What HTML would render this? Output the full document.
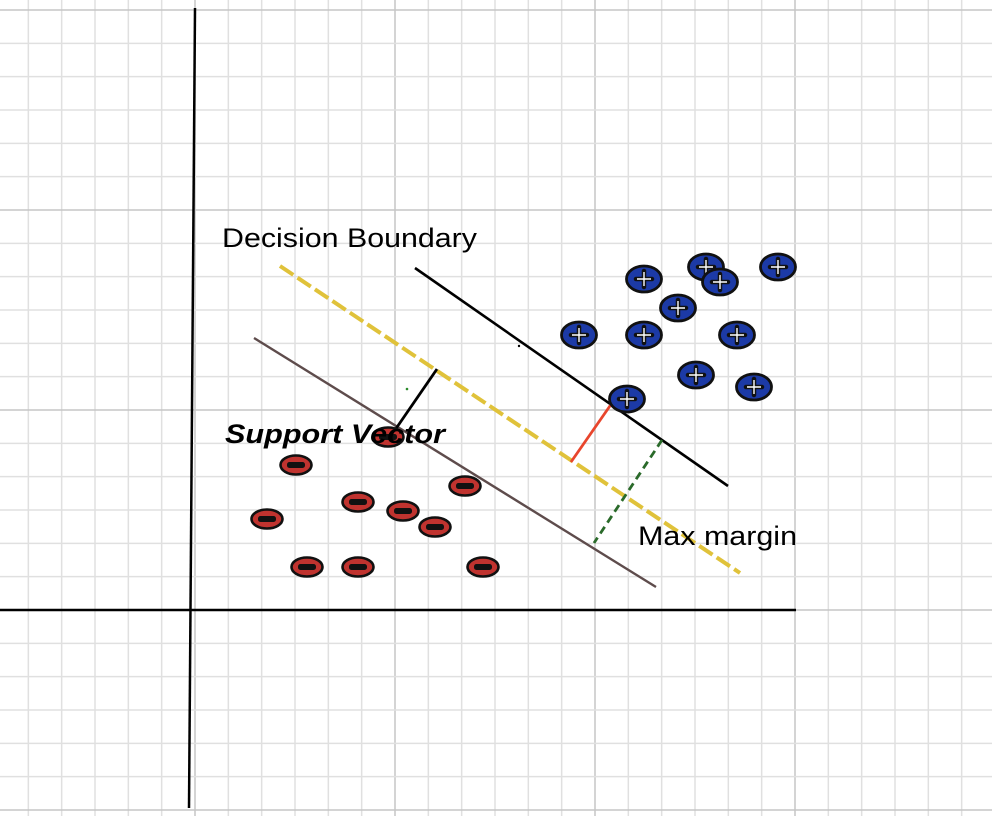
<!DOCTYPE html>
<html><head><meta charset="utf-8"><style>
html,body{margin:0;padding:0;background:#fff;}
svg{display:block;}
text{font-family:"Liberation Sans",sans-serif;}
</style></head><body>
<svg id="c" width="992" height="816" viewBox="0 0 992 816" xmlns="http://www.w3.org/2000/svg">
<g id="grid"></g>
<g id="lines"></g>
<g id="axes">
<line x1="195" y1="8" x2="189" y2="808" stroke="#000" stroke-width="2.5"/>
<line x1="0" y1="610" x2="796" y2="610" stroke="#000" stroke-width="2.5"/>
</g>
<g id="pts"></g>
<text x="222" y="247" font-size="27" textLength="255" lengthAdjust="spacingAndGlyphs" fill="#000">Decision Boundary</text>
<text x="225" y="443" font-size="27" textLength="220" lengthAdjust="spacingAndGlyphs" font-weight="bold" font-style="italic" fill="#000">Support Vector</text>
<text x="638" y="545" font-size="27" textLength="159" lengthAdjust="spacingAndGlyphs" fill="#000">Max margin</text>
</svg>
<script>
const positiveX = [13.47,15.33,15.75,17.49,14.49,11.52,13.47,16.26,15.03,16.77,12.96];
const positiveY = [9.93,10.29,9.84,10.29,9.06,8.25,8.25,8.25,7.05,6.69,6.33];
const negativeX = [3.03,2.16,4.89,6.24,7.20,8.10,3.36,4.89,8.64,5.79];
const negativeY = [4.35,2.73,3.24,2.97,2.49,3.72,1.29,1.29,1.29,5.19];
const lineNames = ["max-margin-hyperplane","decision-boundary","support-line","support-distance","margin-red","margin-green"];
const lineX1 = [2.55,6.60,1.77,7.26,12.51,14.01];
const lineY1 = [10.32,10.26,8.16,7.23,6.21,5.10];
const lineX2 = [16.35,15.99,13.83,6.00,11.28,11.97];
const lineY2 = [1.11,3.72,0.69,5.40,4.44,2.01];
const lineStyles = [["#e0c23a",4,"16 5"],["#000",2.6,""],["#5e4c4c",2.4,""],["#000",2.8,""],["#e8452c",2.8,""],["#2a6a2a",2.8,"8 5"]];

const U = 33.333;
const sx = v => 195 + v*U;
const sy = v => 610 - v*U;
const NS = "http://www.w3.org/2000/svg";
function mk(tag, attrs, parent){
  const e = document.createElementNS(NS, tag);
  for (const k in attrs) e.setAttribute(k, attrs[k]);
  parent.appendChild(e);
  return e;
}
const grid = document.getElementById('grid');
for (let k = 0; k <= 30; k++) {
  const x = -5 + k*U;
  const major = (k % 6 === 0);
  const l = mk('line', {x1:x, y1:0, x2:x, y2:816, stroke: major ? '#c6c6c6' : '#e0e0e0', 'stroke-width': 1.5}, grid);
  
  
}
for (let k = 0; k <= 24; k++) {
  const y = 10 + k*U;
  const major = (k % 6 === 0);
  const l = mk('line', {x1:0, y1:y, x2:992, y2:y, stroke: major ? '#c6c6c6' : '#e0e0e0', 'stroke-width': 1.5}, grid);
  
  
}
const lines = document.getElementById('lines');
for (let i = 0; i < lineX1.length; i++) {
  const st = lineStyles[i];
  const a = {x1:sx(lineX1[i]), y1:sy(lineY1[i]), x2:sx(lineX2[i]), y2:sy(lineY2[i]), stroke:st[0], 'stroke-width':st[1]};
  if (st[2]) a['stroke-dasharray'] = st[2];
  const l = mk('line', a, lines);
  
  
}
const d1 = mk('circle', {cx:sx(6.36), cy:sy(6.63), r:1.3, fill:'#2a8a2a'}, lines);


const d2 = mk('circle', {cx:sx(9.72), cy:sy(7.92), r:1.2, fill:'#000'}, lines);



const pts = document.getElementById('pts');
for (let i = 0; i < negativeX.length; i++) {
  const cx = sx(negativeX[i]), cy = sy(negativeY[i]);
  const g = mk('g', {}, pts);
  
  
  mk('ellipse', {cx:cx, cy:cy, rx:15.5, ry:9.5, fill:'#c0332f', stroke:'#111', 'stroke-width':2.6}, g);
  mk('rect', {x:cx-9, y:cy-3, width:18, height:6, rx:2.5, fill:'#111'}, g);
}
for (let i = 0; i < positiveX.length; i++) {
  const cx = sx(positiveX[i]), cy = sy(positiveY[i]);
  const g = mk('g', {}, pts);
  
  
  mk('ellipse', {cx:cx, cy:cy, rx:17.5, ry:13, fill:'#1c3aa6', stroke:'#111', 'stroke-width':2.8}, g);
  mk('path', {d:`M${cx-8} ${cy}H${cx+8}M${cx} ${cy-8}V${cy+8}`, stroke:'#111', 'stroke-width':4.5, 'stroke-linecap':'round'}, g);
  mk('path', {d:`M${cx-7} ${cy}H${cx+7}M${cx} ${cy-7}V${cy+7}`, stroke:'#fff', 'stroke-width':1.4}, g);
}
</script>
</body></html>
